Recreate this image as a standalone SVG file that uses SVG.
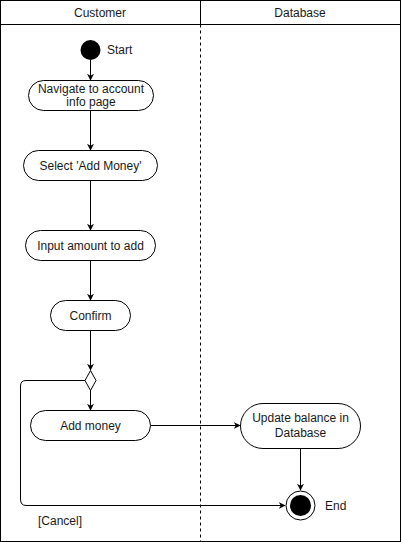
<svg xmlns="http://www.w3.org/2000/svg" width="401" height="542" viewBox="0 0 401 542">
<defs>
<style>
text{font-family:"Liberation Sans",Arial,Helvetica,sans-serif;font-size:12px;fill:#1a1a1a}
.c{text-anchor:middle}
.node{fill:#fff;stroke:#000;stroke-width:1}
.edge{fill:none;stroke:#000;stroke-width:1}
</style>
<marker id="arr" viewBox="0 0 10 10" refX="9" refY="5" markerWidth="7" markerHeight="7" orient="auto" markerUnits="userSpaceOnUse">
<path d="M0,0 L10,5 L0,10 L3,5 Z" fill="#000"/>
</marker>
</defs>
<rect x="0" y="0" width="401" height="542" fill="#fff"/>
<g id="lanes">
<rect x="0.5" y="0.5" width="400" height="541" fill="none" stroke="#000"/>
<line x1="0.5" y1="24.5" x2="400.5" y2="24.5" stroke="#000"/>
<line x1="200.5" y1="0.5" x2="200.5" y2="24.5" stroke="#000"/>
<line x1="200.5" y1="24.5" x2="200.5" y2="541.5" stroke="#000" stroke-dasharray="3,3"/>
<text class="c" x="100" y="17">Customer</text>
<text class="c" x="300" y="17">Database</text>
</g>
<g id="edges">
<line class="edge" x1="90.5" y1="60" x2="90.5" y2="80" marker-end="url(#arr)"/>
<line class="edge" x1="90.5" y1="110" x2="90.5" y2="150" marker-end="url(#arr)"/>
<line class="edge" x1="90.5" y1="180" x2="90.5" y2="230" marker-end="url(#arr)"/>
<line class="edge" x1="90.5" y1="260" x2="90.5" y2="300" marker-end="url(#arr)"/>
<line class="edge" x1="90.5" y1="330" x2="90.5" y2="370" marker-end="url(#arr)"/>
<line class="edge" x1="90.5" y1="390" x2="90.5" y2="410" marker-end="url(#arr)"/>
<line class="edge" x1="150" y1="425.5" x2="240" y2="425.5" marker-end="url(#arr)"/>
<line class="edge" x1="300.5" y1="448" x2="300.5" y2="490" marker-end="url(#arr)"/>
<path class="edge" d="M85,380.5 H26 Q20.5,380.5 20.5,386 V499 Q20.5,505.5 26,505.5 H285" marker-end="url(#arr)"/>
<text x="38" y="525">[Cancel]</text>
</g>
<g id="start">
<circle cx="90.5" cy="50" r="10" fill="#000"/>
<text x="107" y="54">Start</text>
</g>
<g id="navigate">
<rect class="node" x="28.5" y="80.5" width="125" height="30" rx="15"/>
<text class="c" x="91" y="93">Navigate to account</text>
<text class="c" x="91" y="106">info page</text>
</g>
<g id="select">
<rect class="node" x="23.5" y="150.5" width="134" height="30" rx="15"/>
<text class="c" x="90.5" y="170">Select 'Add Money'</text>
</g>
<g id="input">
<rect class="node" x="25.5" y="230.5" width="130" height="30" rx="15"/>
<text class="c" x="90.5" y="250">Input amount to add</text>
</g>
<g id="confirm">
<rect class="node" x="50.5" y="300.5" width="80" height="30" rx="15"/>
<text class="c" x="90.5" y="320">Confirm</text>
</g>
<g id="decision">
<path class="node" d="M90.5,370.5 L96,380.5 L90.5,390.5 L85,380.5 Z"/>
</g>
<g id="addmoney">
<rect class="node" x="30.5" y="410.5" width="120" height="30" rx="15"/>
<text class="c" x="90.5" y="430">Add money</text>
</g>
<g id="update">
<rect class="node" x="240.5" y="403.5" width="120" height="45" rx="22.5"/>
<text class="c" x="300.5" y="422">Update balance in</text>
<text class="c" x="300.5" y="437">Database</text>
</g>
<g id="end">
<circle cx="300.5" cy="505.5" r="14.5" fill="#fff" stroke="#000"/>
<circle cx="300.5" cy="505.5" r="10.5" fill="#000"/>
<text x="325" y="510">End</text>
</g>
</svg>
